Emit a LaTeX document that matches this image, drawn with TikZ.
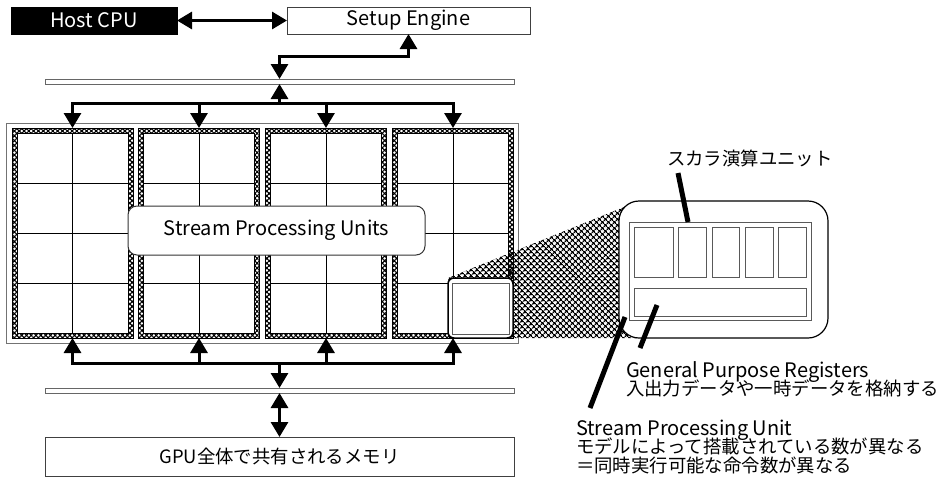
\documentclass[tikz,border=0pt]{standalone}
\usepackage{fontspec}
\setmainfont{Noto Sans CJK JP}
\usetikzlibrary{arrows.meta,patterns.meta,calc}
\begin{document}
\begin{tikzpicture}[x=1pt,y=-1pt,
  every node/.style={inner sep=0pt,outer sep=0pt},
  >={Triangle[length=15pt,width=17pt]},
  lat/.style={font=\fontsize{20}{24}\selectfont},
  jp/.style={font=\fontsize{18.4}{22}\selectfont},
  box/.style={draw=black!75,line width=1pt,fill=white},
  bus/.style={draw=black!60,line width=1pt,fill=white,minimum width=469pt,minimum height=5pt},
  conn/.style={line width=3pt,draw=black},
  leader/.style={line width=5pt,draw=black},
  hatch/.style={pattern={Hatch[angle=45,distance=4pt,line width=1.3pt]},pattern color=black},
  fhatch/.style={pattern={Hatch[angle=45,distance=3.4pt,line width=1.1pt]},pattern color=black},
  frame/.style={draw=black,line width=0.8pt,fhatch,minimum width=121pt,minimum height=210pt},
  thinbox/.style={draw=black!65,line width=1pt,fill=white},
]
\useasboundingbox (0,0) rectangle (952,482);

% top boxes
\node[fill=black,draw=black,minimum width=166pt,minimum height=27pt,lat,text=white] (host) at (94,20.5) {Host CPU};
\node[box,minimum width=243pt,minimum height=27pt,lat] (setup) at (408.5,20.5) {Setup Engine};
\draw[conn,<->] (host.east) -- (setup.west);

% bus 1
\node[bus] (bus1) at (279.5,81.5) {};
\draw[conn,<->] (setup.south) |- ($(bus1.north)+(0,-23)$) -- (bus1.north);

% chip outline
\node[draw=black!55,line width=1pt,minimum width=512pt,minimum height=220pt] (chip) at (262,233) {};

% SIMD frames with grids
\foreach \i/\x in {1/72.5,2/199,3/326,4/453} {
  \node[frame] (f\i) at (\x,233) {};
  \draw[black,line width=0.8pt,fill=white] ($(f\i.south west)+(5,-5)$) rectangle ($(f\i.north east)+(-5,5)$);
  \draw[black,line width=0.8pt] ($(f\i.north)+(0,5)$) -- ($(f\i.south)+(0,-5)$);
  \foreach \d in {-50,0,50}
    \draw[black,line width=0.8pt] ($(f\i.west)+(5,\d)$) -- ($(f\i.east)+(-5,\d)$);
}

% distribution from bus 1
\coordinate (j1) at ($(bus1.south)+(0,19)$);
\draw[conn,<-] (bus1.south) -- (j1);
\foreach \i in {1,2,3,4} \draw[conn,->] (j1) -| (f\i.north);

% collection to bus 2
\node[bus] (bus2) at (279.5,390.5) {};
\coordinate (j2) at ($(bus2.north)+(0,-25)$);
\foreach \i in {1,2,3,4} \draw[conn,<-] (f\i.south) |- (j2);
\draw[conn,->] (j2) -- (bus2.north);

% memory
\node[box,minimum width=469pt,minimum height=39pt,jp] (mem) at (279.5,456.5) {GPU全体で共有されるメモリ};
\draw[conn,<->] (bus2.south) -- (mem.north);

% label
\node[draw=black!80,line width=1pt,fill=white,rounded corners=9pt,minimum width=297pt,minimum height=49pt,lat] (spus) at (276.5,230.5) {Stream Processing Units};

% zoom hatch
\coordinate (zA) at (448,278);
\coordinate (zB) at (639,201);
\coordinate (zC) at (639,338);
\coordinate (zD) at (448,338);
\fill[hatch] (zA) -- (zB) -- (zC) -- (zD) -- cycle;

% selected unit
\node[draw=black,line width=1.5pt,fill=white,rounded corners=6pt,minimum width=65pt,minimum height=60pt] (sel) at (480.5,308) {};
\node[thinbox,minimum width=57pt,minimum height=51pt] (selin) at (480.5,308.5) {};

% enlarged unit
\node[draw=black,line width=1.2pt,fill=white,rounded corners=20pt,minimum width=209pt,minimum height=137pt] (spu) at (723.5,269.5) {};
\node[thinbox,minimum width=182pt,minimum height=98pt] (inner) at (720,271) {};
\node[thinbox,minimum width=39pt,minimum height=50pt] (alu1) at (653.5,252) {};
\node[thinbox,minimum width=28pt,minimum height=50pt] (alu2) at (692,252) {};
\node[thinbox,minimum width=27pt,minimum height=50pt] (alu3) at (725.5,252) {};
\node[thinbox,minimum width=28pt,minimum height=50pt] (alu4) at (759,252) {};
\node[thinbox,minimum width=28pt,minimum height=50pt] (alu5) at (792,252) {};
\node[thinbox,minimum width=172pt,minimum height=28pt] (gpr) at (720,302) {};

% labels
\node[jp,anchor=base west] (alul) at (667,165) {スカラ演算ユニット};
\node[lat,anchor=base west] (gprl1) at (626,377) {General Purpose Registers};
\node[jp,anchor=base west] (gprl2) at (626,395) {入出力データや一時データを格納する};
\node[lat,anchor=base west] (spul1) at (576,435) {Stream Processing Unit};
\node[jp,anchor=base west] (spul2) at (576,453) {モデルによって搭載されている数が異なる};
\node[jp,anchor=base west] (spul3) at (576,472) {＝同時実行可能な命令数が異なる};

% leaders
\draw[leader] ($(alul.base west)+(11,8)$) -- ($(alu2.north)+(-4,-5)$);
\draw[leader] ($(gpr.south west)+(23,-11)$) -- ($(gprl1.base west)+(14,-29)$);
\draw[leader] ($(spu.south west)+(6,-21)$) -- ($(spul1.base west)+(14,-27)$);
\end{tikzpicture}
\end{document}
